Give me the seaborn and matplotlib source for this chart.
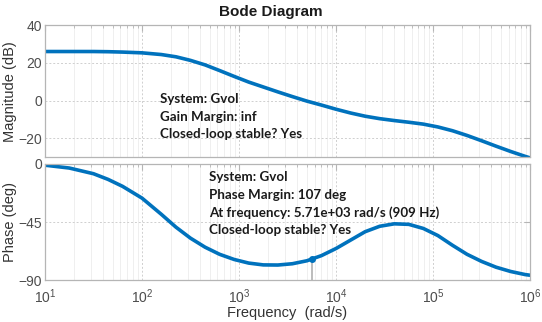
import matplotlib
matplotlib.use("Agg")
import matplotlib.pyplot as plt
import seaborn as sns
import pandas as pd
from matplotlib.ticker import LogLocator, NullFormatter

# -----------------------------------------------------------
# Data (frequency in rad/s)
# -----------------------------------------------------------
freq = [10, 17.8, 31.6, 44.7, 63.1, 100, 158, 224, 316, 447, 631, 891, 1259, 1778,
        2512, 3548, 5012, 7079, 10000, 14125, 19953, 28184, 39811, 56234,
        79433, 112202, 158489, 223872, 316228, 446684, 630957, 891251, 1000000]
mag_db = [26.0, 26.0, 26.0, 25.9, 25.7, 25.3, 24.4, 23.2, 21.3, 18.9, 15.9, 12.8, 9.8,
          7.2, 4.6, 2.1, -0.3, -2.4, -4.6, -6.6, -8.3, -9.6, -10.6, -11.5,
          -12.5, -14.0, -16.0, -18.5, -21.3, -24.2, -27.0, -29.6, -30.4]
phase_deg = [-1.0, -3.2, -7.6, -12.0, -17.4, -26.5, -39.0, -49.0, -57.5, -64.5, -70.0,
             -74.0, -76.8, -78.2, -78.3, -77.3, -75.0, -71.0, -65.5, -59.0,
             -52.5, -48.3, -46.4, -46.8, -50.0, -55.5, -63.0, -70.0, -75.5,
             -80.0, -83.3, -85.7, -86.2]

pm_freq = 5710
pm_phase = -73.5

mag_text = "System: Gvol\nGain Margin: inf\nClosed-loop stable? Yes"
phase_text = ("System: Gvol\nPhase Margin: 107 deg\n"
              "At frequency: 5.71e+03 rad/s (909 Hz)\nClosed-loop stable? Yes")

df = pd.DataFrame({"freq": freq, "mag": mag_db, "phase": phase_deg})

# -----------------------------------------------------------
# Plot
# -----------------------------------------------------------
sns.set_style("white")
plt.rcParams["font.family"] = ["Liberation Sans", "DejaVu Sans"]

line_color = "#0072BD"
tick_gray = "#4d4d4d"
spine_gray = "#b5b5b5"

fig = plt.figure(figsize=(5.42, 3.22), dpi=100)
ax_mag = fig.add_axes([0.083, 0.512, 0.895, 0.41])
ax_ph = fig.add_axes([0.083, 0.130, 0.895, 0.361])

sns.lineplot(data=df, x="freq", y="mag", ax=ax_mag, color=line_color,
             linewidth=2.6, sort=False)
sns.lineplot(data=df, x="freq", y="phase", ax=ax_ph, color=line_color,
             linewidth=2.6, sort=False)

for ax in (ax_mag, ax_ph):
    ax.set_xscale("log")
    ax.set_xlim(10, 1e6)
    ax.xaxis.set_major_locator(LogLocator(base=10, numticks=10))
    ax.xaxis.set_minor_locator(LogLocator(base=10, subs=range(2, 10), numticks=10))
    ax.xaxis.set_minor_formatter(NullFormatter())
    ax.grid(which="major", color="#cfcfcf", linestyle=(0, (2, 2)), linewidth=0.7)
    ax.grid(which="minor", axis="x", color="#ececec", linestyle="-", linewidth=0.6)
    ax.tick_params(which="both", direction="in", top=True, right=True,
                   colors=spine_gray, labelcolor=tick_gray, labelsize=10, pad=2)
    ax.tick_params(axis="x", which="major", pad=5)
    ax.tick_params(which="major", length=4)
    ax.tick_params(which="minor", length=2.5)
    for sp in ax.spines.values():
        sp.set_color(spine_gray)
        sp.set_linewidth(0.9)

ax_mag.set_ylim(-30, 40)
ax_mag.set_yticks([-20, 0, 20, 40])
ax_mag.set_xticklabels([])
ax_mag.set_xlabel("")
ax_mag.set_ylabel("Magnitude (dB)", fontsize=10.5, color="#333333", labelpad=1)

ax_ph.set_ylim(-90, 0)
ax_ph.set_yticks([-90, -45, 0])
ax_ph.set_xlabel("Frequency  (rad/s)", fontsize=10.5, color="#333333", labelpad=0)
ax_ph.set_ylabel("Phase (deg)", fontsize=10.5, color="#333333", labelpad=1)

# phase margin marker
ax_ph.vlines(pm_freq, -90, pm_phase, color="#b0b0b0", linewidth=1.2)
ax_ph.plot([pm_freq], [pm_phase], "o", color=line_color, markersize=4)

txt_font = ["Lato", "DejaVu Sans"]
ax_mag.text(153, 4.0, mag_text, family=txt_font, fontweight="bold",
            fontsize=9.6, va="top", ha="left", linespacing=1.55, color="#1a1a1a")
ax_ph.text(490, -5.5, phase_text, family=txt_font, fontweight="bold",
           fontsize=9.6, va="top", ha="left", linespacing=1.55, color="#1a1a1a")

fig.suptitle("Bode Diagram", x=0.5, y=0.985, fontsize=11, fontweight="bold",
             color="#1a1a1a")

fig.savefig("out.png", dpi=100)
